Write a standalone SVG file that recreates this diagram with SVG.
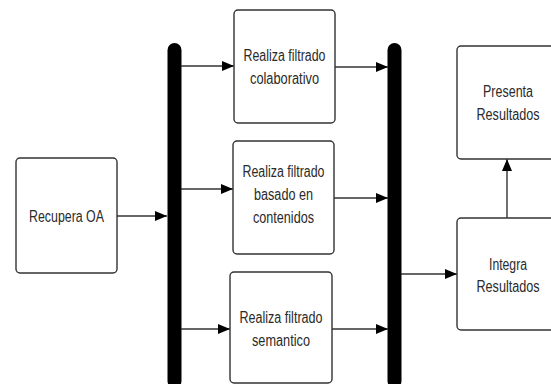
<svg xmlns="http://www.w3.org/2000/svg" width="551" height="384" viewBox="0 0 551 384">
<style>
.box{fill:#fff;stroke:#333;stroke-width:1.4}
.bar{fill:#000}
.t{font-family:"Liberation Sans",Arial,sans-serif;font-size:16px;fill:#2a2a2a;text-anchor:middle}
.c{fill:none;stroke:#333;stroke-width:1.4}
</style>
<defs>
<marker id="ah" markerWidth="12" markerHeight="10" refX="12" refY="5" orient="auto" markerUnits="userSpaceOnUse">
<path d="M0,0 L12,5 L0,10 Z" fill="#000"/>
</marker>
</defs>
<rect width="551" height="384" fill="#fff"/>
<g id="bar-left"><rect class="bar" x="167.5" y="43" width="14" height="345" rx="7"/></g>
<g id="bar-right"><rect class="bar" x="387.5" y="43" width="14" height="345" rx="7"/></g>
<g id="connectors">
<line class="c" x1="117" y1="216" x2="167" y2="216" marker-end="url(#ah)"/>
<line class="c" x1="181" y1="66" x2="234" y2="66" marker-end="url(#ah)"/>
<line class="c" x1="181" y1="189" x2="233" y2="189" marker-end="url(#ah)"/>
<line class="c" x1="181" y1="329" x2="230" y2="329" marker-end="url(#ah)"/>
<line class="c" x1="335" y1="67" x2="388" y2="67" marker-end="url(#ah)"/>
<line class="c" x1="334" y1="198" x2="388" y2="198" marker-end="url(#ah)"/>
<line class="c" x1="332" y1="329" x2="388" y2="329" marker-end="url(#ah)"/>
<line class="c" x1="401" y1="274" x2="457" y2="274" marker-end="url(#ah)"/>
<line class="c" x1="507" y1="218" x2="507" y2="159" marker-end="url(#ah)"/>
</g>
<g id="recupera">
<rect class="box" x="16" y="158" width="101" height="115" rx="4"/>
<text class="t" x="66.5" y="222" textLength="75" lengthAdjust="spacingAndGlyphs">Recupera OA</text>
</g>
<g id="colaborativo">
<rect class="box" x="234" y="10" width="101" height="113" rx="4"/>
<text class="t" x="284.5" y="61" textLength="82" lengthAdjust="spacingAndGlyphs">Realiza filtrado</text>
<text class="t" x="284.5" y="84" textLength="69" lengthAdjust="spacingAndGlyphs">colaborativo</text>
</g>
<g id="contenidos">
<rect class="box" x="233" y="141" width="101" height="113" rx="4"/>
<text class="t" x="283.5" y="177" textLength="82" lengthAdjust="spacingAndGlyphs">Realiza filtrado</text>
<text class="t" x="283.5" y="200" textLength="59" lengthAdjust="spacingAndGlyphs">basado en</text>
<text class="t" x="283.5" y="223" textLength="61" lengthAdjust="spacingAndGlyphs">contenidos</text>
</g>
<g id="semantico">
<rect class="box" x="230" y="272" width="102" height="111" rx="4"/>
<text class="t" x="281" y="323" textLength="83" lengthAdjust="spacingAndGlyphs">Realiza filtrado</text>
<text class="t" x="281" y="346" textLength="58" lengthAdjust="spacingAndGlyphs">semantico</text>
</g>
<g id="presenta">
<rect class="box" x="457" y="46" width="102" height="113" rx="4"/>
<text class="t" x="508" y="97" textLength="50" lengthAdjust="spacingAndGlyphs">Presenta</text>
<text class="t" x="508" y="120" textLength="63" lengthAdjust="spacingAndGlyphs">Resultados</text>
</g>
<g id="integra">
<rect class="box" x="457" y="218" width="102" height="112" rx="4"/>
<text class="t" x="508" y="270" textLength="38" lengthAdjust="spacingAndGlyphs">Integra</text>
<text class="t" x="508" y="292" textLength="63" lengthAdjust="spacingAndGlyphs">Resultados</text>
</g>
</svg>
